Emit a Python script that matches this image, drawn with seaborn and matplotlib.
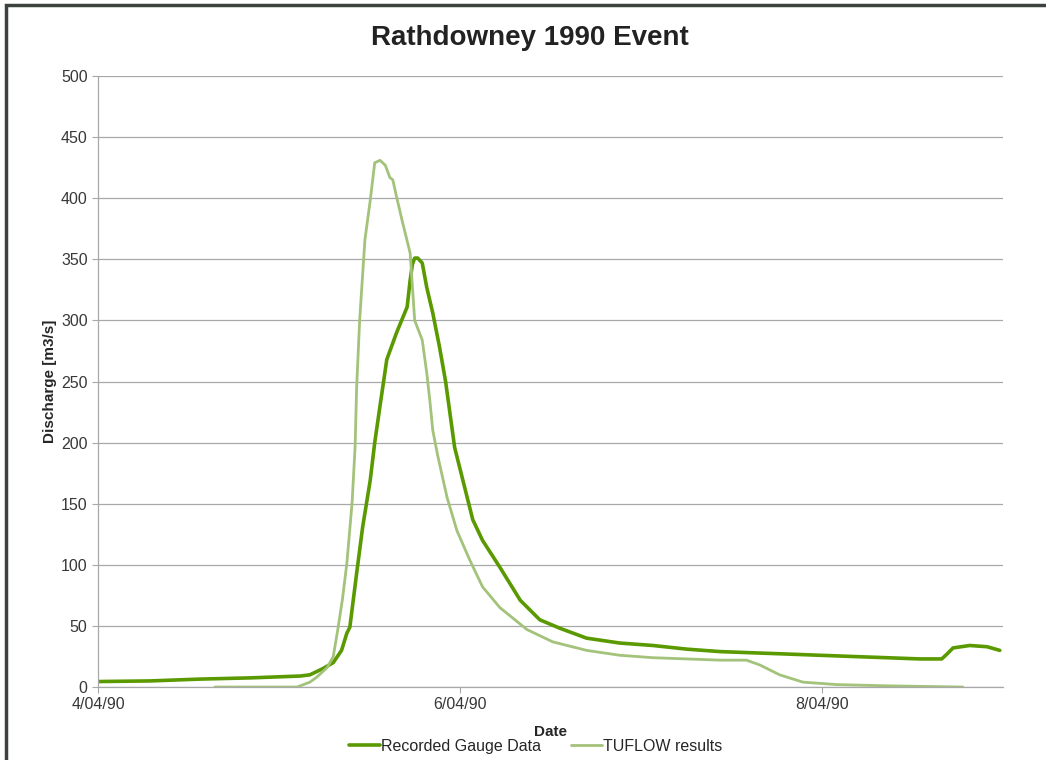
import numpy as np
import pandas as pd
import seaborn as sns
import matplotlib.pyplot as plt
from matplotlib.patches import Rectangle

# hours after 4/04/90 00:00 and discharge (m3/s)
gauge_hours = [0, 6.9, 13.5, 20.2, 26.8, 28.1, 29.8, 31.2, 32.3, 33.0, 33.4, 34.3, 35.1,
               36.1, 36.7, 37.4, 37.9, 38.3, 39.6, 41.0, 41.4, 41.7, 42.0, 42.4, 43.0,
               43.6, 44.4, 45.3, 46.1, 47.3, 48.4, 49.7, 51.0, 53.3, 56.0, 58.6, 61.3,
               64.8, 69.2, 73.6, 78.1, 82.5, 86.9, 91.4, 95.7, 100.1, 104.6, 109.0,
               111.9, 112.6, 113.4, 115.6, 117.9, 119.6]
gauge_flow = [4.5, 5, 6.5, 7.5, 9, 10, 15, 20, 30, 44, 49, 93, 131,
              169, 200, 230, 251, 268, 290, 311, 333, 346, 351, 351, 347,
              327, 306, 278, 250, 196, 169, 137, 120, 98, 71, 55, 48,
              40, 36, 34, 31, 29, 28, 27, 26, 25, 24, 23,
              23, 27, 32, 34, 33, 30]

tuflow_hours = [15.5, 26.4, 28.1, 29.0, 30.4, 31.2, 31.8, 32.4, 33.0, 33.7, 34.1, 34.3,
                34.7, 35.4, 36.1, 36.7, 37.4, 38.1, 38.7, 39.1, 39.6, 40.4, 41.4, 42.0,
                43.0, 43.6, 44.0, 44.4, 45.1, 46.3, 47.6, 49.3, 51.0, 53.3, 56.9, 60.3,
                64.8, 69.2, 73.6, 78.1, 82.5, 86.0, 87.8, 90.4, 93.5, 98.0, 104.6, 114.7]
tuflow_flow = [0, 0, 4, 8, 16, 25, 47, 71, 101, 151, 197, 245,
               300, 366, 398, 429, 431, 427, 417, 415, 401, 380, 355, 300,
               284, 257, 235, 210, 188, 155, 128, 104, 82, 65, 47, 37,
               30, 26, 24, 23, 22, 22, 18, 10, 4, 2, 1, 0]

tick_dates = ['1990-04-04', '1990-04-06', '1990-04-08']
tick_labels = ['4/04/90', '6/04/90', '8/04/90']

start = pd.Timestamp('1990-04-04')
gauge = pd.DataFrame({'Date': start + pd.to_timedelta(gauge_hours, unit='h'),
                      'Discharge': gauge_flow})
tuflow = pd.DataFrame({'Date': start + pd.to_timedelta(tuflow_hours, unit='h'),
                       'Discharge': tuflow_flow})

sns.set_style('white')
plt.rcParams['font.family'] = ['Liberation Sans', 'DejaVu Sans']

fig = plt.figure(figsize=(10.46, 7.6), dpi=100)
ax = fig.add_axes([0.0937, 0.096, 0.865, 0.804])

sns.lineplot(data=gauge, x='Date', y='Discharge', ax=ax, color='#5a9a00',
             linewidth=2.6, label='Recorded Gauge Data')
sns.lineplot(data=tuflow, x='Date', y='Discharge', ax=ax, color='#a3c27a',
             linewidth=2.0, label='TUFLOW results')

ax.set_ylim(0, 500)
ax.set_yticks(range(0, 501, 50))
ax.set_xlim(start, pd.Timestamp('1990-04-09'))
ax.set_xticks(pd.to_datetime(tick_dates))
ax.set_xticklabels(tick_labels)
ax.grid(axis='y', color='#a8a8a8', linewidth=0.9)
ax.set_axisbelow(True)
for s in ['top', 'right']:
    ax.spines[s].set_visible(False)
for s in ['left', 'bottom']:
    ax.spines[s].set_color('#a8a8a8')
    ax.spines[s].set_linewidth(0.9)
ax.tick_params(axis='both', labelsize=11.5, colors='#383838', length=4,
               color='#a8a8a8', direction='out', bottom=True, left=True)

fig.text(530 / 1046, 1 - 38 / 760, 'Rathdowney 1990 Event', fontsize=20,
         fontweight='bold', color='#222222', ha='center', va='center')
ax.set_xlabel('Date', fontsize=11, fontweight='bold', labelpad=9)
ax.set_ylabel('Discharge [m3/s]', fontsize=11, fontweight='bold', labelpad=3)

ax.legend(loc='upper center', bbox_to_anchor=(0.484, -0.061), ncol=2, frameon=False,
          fontsize=11.5, handlelength=1.9, handletextpad=0.1, columnspacing=1.9)

fig.patches.append(Rectangle((0.006, -0.02), 1.2, 1.013, transform=fig.transFigure,
                             fill=False, edgecolor='#3c423c', linewidth=2.5))

fig.savefig('out.png', dpi=100)
